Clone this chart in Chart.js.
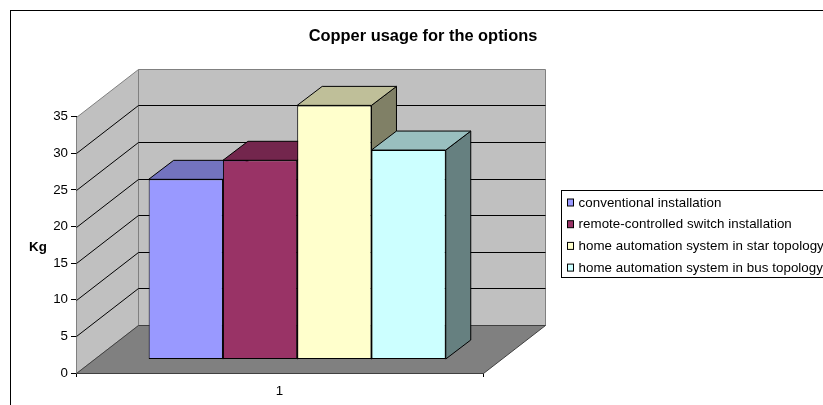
<!DOCTYPE html>
<html>
<head>
<meta charset="utf-8">
<title>Copper usage</title>
<script src="https://cdn.jsdelivr.net/npm/chart.js@4"></script>
<style>
  html, body { margin: 0; padding: 0; background: #fff; overflow: hidden; }
  canvas { display: block; }
</style>
</head>
<body>
<canvas id="copperChart" width="823" height="405"></canvas>
<script>
const categories = ["1"];
const seriesNames = [
  "conventional installation",
  "remote-controlled switch installation",
  "home automation system in star topology",
  "home automation system in bus topology"
];
const seriesValues = [24.6, 27.2, 34.7, 28.6];
const seriesFront = ["#9999FF", "#993366", "#FFFFCC", "#CCFFFF"];
const seriesTop = ["#7373BF", "#73264D", "#BFBF99", "#99BFBF"];
const seriesSide = ["#4D4D80", "#4D1A33", "#808066", "#668080"];
const yTicks = [0, 5, 10, 15, 20, 25, 30, 35];

// depth of the box and where the bars sit inside it
const wallDx = 62, wallDy = -48;
const barDx = 17.7, barDy = -13.5;
const barDepthX = 25, barDepthY = -19;

const fontFamily = '"Liberation Sans"';
const labelSize = 13.33;

function poly(c, pts, fill, stroke) {
  c.beginPath();
  pts.forEach((p, i) => i ? c.lineTo(p[0], p[1]) : c.moveTo(p[0], p[1]));
  c.closePath();
  if (fill) { c.fillStyle = fill; c.fill(); }
  if (stroke) { c.strokeStyle = stroke; c.lineWidth = 1; c.stroke(); }
}

const box3d = {
  id: 'box3d',
  // walls, floor, grid, then the tops and sides of the bars
  beforeDatasetsDraw(chart) {
    const c = chart.ctx, a = chart.chartArea, y = chart.scales.y;
    const L = Math.round(a.left) + 0.5, R = Math.round(a.right) + 0.5;
    const T = Math.round(a.top) + 0.5, B = Math.round(a.bottom) + 0.5;
    c.save();
    poly(c, [[L, B], [L + wallDx, B + wallDy], [L + wallDx, T + wallDy], [L, T]], '#C0C0C0', '#808080');
    poly(c, [[L + wallDx, B + wallDy], [R + wallDx, B + wallDy], [R + wallDx, T + wallDy], [L + wallDx, T + wallDy]], '#C0C0C0', '#808080');
    poly(c, [[L, B], [R, B], [R + wallDx, B + wallDy], [L + wallDx, B + wallDy]], '#808080', '#404040');
    c.strokeStyle = '#000';
    c.lineWidth = 1;
    yTicks.slice(1, -1).forEach(v => {
      const py = Math.round(y.getPixelForValue(v)) + 0.5;
      c.beginPath();
      c.moveTo(L, py);
      c.lineTo(L + wallDx, py + wallDy);
      c.lineTo(R + wallDx, py + wallDy);
      c.stroke();
    });
    c.restore();

    // stays translated until afterDatasetsDraw: bars stand back from the floor edge
    c.save();
    c.translate(barDx, barDy);
    chart.data.datasets.forEach((d, i) => {
      const bar = chart.getDatasetMeta(i).data[0];
      const l = bar.x - bar.width / 2, r = bar.x + bar.width / 2;
      const t = bar.y, b = bar.base;
      poly(c, [[r, t], [r + barDepthX, t + barDepthY], [r + barDepthX, b + barDepthY], [r, b]], seriesSide[i], '#000');
      poly(c, [[l, t], [r, t], [r + barDepthX, t + barDepthY], [l + barDepthX, t + barDepthY]], seriesTop[i], '#000');
    });
  },
  afterDatasetsDraw(chart) {
    chart.ctx.restore();
  },
  afterDraw(chart) {
    const c = chart.ctx;
    c.save();
    // outer frame runs off the right and bottom of the page
    c.strokeStyle = '#000';
    c.lineWidth = 1;
    c.strokeRect(10.5, 10.5, chart.width + 10, chart.height + 10);
    // axis name stays horizontal
    c.fillStyle = '#000';
    c.font = 'bold ' + labelSize + 'px ' + fontFamily;
    c.textBaseline = 'middle';
    c.textAlign = 'left';
    c.fillText('Kg', 29, 247);
    // legend box
    const lx = 561.5, ly = 190.5, rowH = 21.7;
    c.strokeRect(lx, ly, 300, 87);
    c.font = labelSize + 'px ' + fontFamily;
    c.letterSpacing = '0.06px';
    seriesNames.forEach((name, i) => {
      const cy = ly + 12 + i * rowH;
      c.fillStyle = seriesFront[i];
      c.fillRect(lx + 6, cy - 3.5, 6, 7);
      c.strokeStyle = '#000';
      c.strokeRect(lx + 6, cy - 3.5, 6, 7);
      c.fillStyle = '#000';
      c.fillText(name, lx + 17, cy + 0.5);
    });
    c.restore();
  }
};

new Chart(document.getElementById('copperChart'), {
  type: 'bar',
  data: {
    labels: categories,
    datasets: seriesNames.map((name, i) => ({
      label: name,
      data: [seriesValues[i]],
      backgroundColor: seriesFront[i],
      borderColor: '#000',
      borderWidth: 1,
      borderSkipped: false,
      clip: false
    }))
  },
  options: {
    responsive: false,
    animation: false,
    categoryPercentage: 0.73,
    barPercentage: 1,
    layout: { padding: { left: 22, right: 340, top: 97, bottom: 0 } },
    plugins: {
      legend: { display: false },
      tooltip: { enabled: false },
      title: {
        display: true,
        text: 'Copper usage for the options',
        color: '#000',
        font: { family: fontFamily, size: 16.4, weight: 'bold' },
        padding: { top: 0, bottom: 0 }
      }
    },
    scales: {
      x: {
        grid: { drawOnChartArea: false, color: '#000', tickLength: 4, offset: true },
        border: { color: '#000', width: 1 },
        ticks: { color: '#000', font: { family: fontFamily, size: labelSize }, padding: 6 },
        afterFit(scale) { scale.height = 32; }
      },
      y: {
        min: 0,
        max: 35,
        grid: { drawOnChartArea: false, color: '#000', tickLength: 5 },
        border: { color: '#000', width: 1 },
        ticks: { stepSize: 5, color: '#000', font: { family: fontFamily, size: labelSize }, padding: 3 },
        afterFit(scale) { scale.width = 54; }
      }
    }
  },
  plugins: [box3d, {
    // title is centred over the frame, not the page
    id: 'placeTitle',
    afterLayout(chart) {
      const title = chart.titleBlock;
      title.left = 23;
      title.right = 823;
      title.top = 27;
      title.bottom = 46;
    }
  }]
});
</script>
</body>
</html>
